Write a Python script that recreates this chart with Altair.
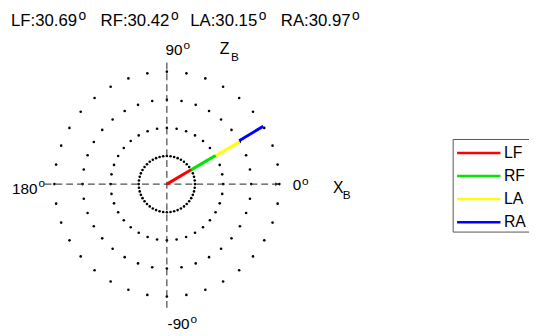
import altair as alt
import numpy as np
import pandas as pd

# ---------------- data ----------------
names = ["LF", "RF", "LA", "RA"]
angles_deg = [30.69, 30.42, 30.15, 30.97]
colors = ["#ff0000", "#00e600", "#ffff00", "#0000ff"]
ring_radii = [1, 2, 3, 4]
ring_dot_counts = [48, 36, 36, 36]
axis_label_text = ["0", "90", "180", "-90"]

# ---------------- layout helpers (page pixels -> data units) ----------------
U = 28.55              # pixels per ring unit
CX, CY = 169.3, 184.3  # page position of the pole
W, H = 529, 328
FONT = "Liberation Sans"


def gx(px):
    return (px - CX) / U


def gy(py):
    return (CY - py) / U


# Arial / Liberation Sans advance widths (em)
EM = {**{d: 0.556 for d in "0123456789"}, ".": 0.278, ":": 0.278, "L": 0.556,
      "F": 0.611, "R": 0.722, "A": 0.667, "-": 0.333}


def twidth(s, fs):
    return sum(EM.get(c, 0.556) for c in s) * fs


xs = alt.Scale(domain=[gx(8), gx(8 + W)], nice=False, zero=False)
ys = alt.Scale(domain=[gy(8 + H), gy(8)], nice=False, zero=False)


def X(f):
    return alt.X(f, type="quantitative", scale=xs, axis=None)


def Y(f):
    return alt.Y(f, type="quantitative", scale=ys, axis=None)


cscale = alt.Scale(domain=names, range=colors)

# ---------------- grid dots ----------------
rows = []
for r, n in zip(ring_radii, ring_dot_counts):
    t = np.arange(n) * 2 * np.pi / n
    for a in t:
        rows.append({"x": r * np.cos(a), "y": r * np.sin(a)})
dots = pd.DataFrame(rows)

dots_layer = alt.Chart(dots).mark_circle(size=7, color="#000", opacity=1).encode(
    x=X("x"), y=Y("y"))

# ---------------- dashed axes ----------------
axes_df = pd.DataFrame({
    "x": [-4.35, 0.0], "x2": [3.98, 0.0],
    "y": [0.0, -4.4], "y2": [0.0, 4.4],
})
axes_layer = alt.Chart(axes_df).mark_rule(color="#222", strokeWidth=1, strokeDash=[7, 4]).encode(
    x=X("x"), x2="x2", y=Y("y"), y2="y2")

arrow_df = pd.DataFrame({"x": [gx(281)], "y": [0.0]})
arrow_layer = alt.Chart(arrow_df).mark_point(shape="triangle-right", filled=True, size=16,
                                             color="#222", opacity=1).encode(x=X("x"), y=Y("y"))

# ---------------- segments ----------------
r0 = [0] + ring_radii[:-1]
seg = pd.DataFrame({"name": names, "ang": angles_deg, "r0": r0, "r1": ring_radii})
rad = np.deg2rad(seg["ang"])
seg["x"] = seg["r0"] * np.cos(rad)
seg["y"] = seg["r0"] * np.sin(rad)
seg["x2"] = seg["r1"] * np.cos(rad)
seg["y2"] = seg["r1"] * np.sin(rad)
seg_layer = alt.Chart(seg).mark_rule(strokeWidth=3).encode(
    x=X("x"), x2="x2", y=Y("y"), y2="y2",
    color=alt.Color("name:N", scale=cscale, legend=None))


# ---------------- text annotations ----------------
def text_layer(df, fs, color="#000"):
    return alt.Chart(df).mark_text(align="left", baseline="middle", font=FONT,
                                   fontSize=fs, color=color).encode(
        x=X("x"), y=Y("y"), text="t:N")


# title
title_starts = [11, 102, 193, 285]
TFS, TOFS = 17, 14
tmain, tsup = [], []
for n, a, sx in zip(names, angles_deg, title_starts):
    s = f"{n}:{a:.2f}"
    tmain.append({"t": s, "x": gx(sx), "y": gy(19.2)})
    tsup.append({"t": "o", "x": gx(sx + twidth(s, TFS) + 1.5), "y": gy(13.5)})
title_layer = text_layer(pd.DataFrame(tmain), TFS) + text_layer(pd.DataFrame(tsup), TOFS)

# polar axis labels
AFS, AOFS = 15.5, 12
lab_pos = {"0": (297, 185.5, 181), "90": (168, 48.5, 43.5),
           "180": (12, 189.5, 183.5), "-90": (170, 326.5, 321)}
amain, asup = [], []
for s in axis_label_text:
    px, py, poy = lab_pos[s]
    amain.append({"t": s, "x": gx(px), "y": gy(py)})
    asup.append({"t": "o", "x": gx(px + twidth(s, AFS) + 1), "y": gy(poy)})
alabel_layer = text_layer(pd.DataFrame(amain), AFS) + text_layer(pd.DataFrame(asup), AOFS)

# body axis names
bmain = pd.DataFrame({"t": ["Z", "X"], "x": [gx(223), gx(338)], "y": [gy(47.5), gy(188)]})
bsub = pd.DataFrame({"t": ["B", "B"], "x": [gx(234.5), gx(348)], "y": [gy(55.5), gy(195)]})
body_layer = text_layer(bmain, 16) + text_layer(bsub, 12)

# ---------------- legend ----------------
box = pd.DataFrame({"x": [gx(460)], "x2": [gx(600)], "y": [gy(139)], "y2": [gy(233)]})
box_layer = alt.Chart(box).mark_rect(fill="white", stroke="#555", strokeWidth=1, clip=True).encode(
    x=X("x"), x2="x2", y=Y("y"), y2="y2")

leg_y = [152.7, 176.0, 199.5, 223.0]
leg = pd.DataFrame({"name": names, "x": gx(464), "x2": gx(508),
                    "y": [gy(v) for v in leg_y]})
leg_lines = alt.Chart(leg).mark_rule(strokeWidth=2.5).encode(
    x=X("x"), x2="x2", y=Y("y"),
    color=alt.Color("name:N", scale=cscale, legend=None))
leg_text = alt.Chart(leg).mark_text(align="left", baseline="middle", font=FONT,
                                    fontSize=16, color="#000").encode(
    x=alt.value(511.5 - 8), y=Y("y"), text="name:N")

chart = alt.layer(
    dots_layer, axes_layer, arrow_layer, seg_layer,
    title_layer, alabel_layer, body_layer,
    box_layer, leg_lines, leg_text,
).properties(width=W, height=H, padding=0, autosize="none", background="white"
).configure_view(stroke=None)

chart.save("out.html", embed_options={"renderer": "svg", "actions": False})
